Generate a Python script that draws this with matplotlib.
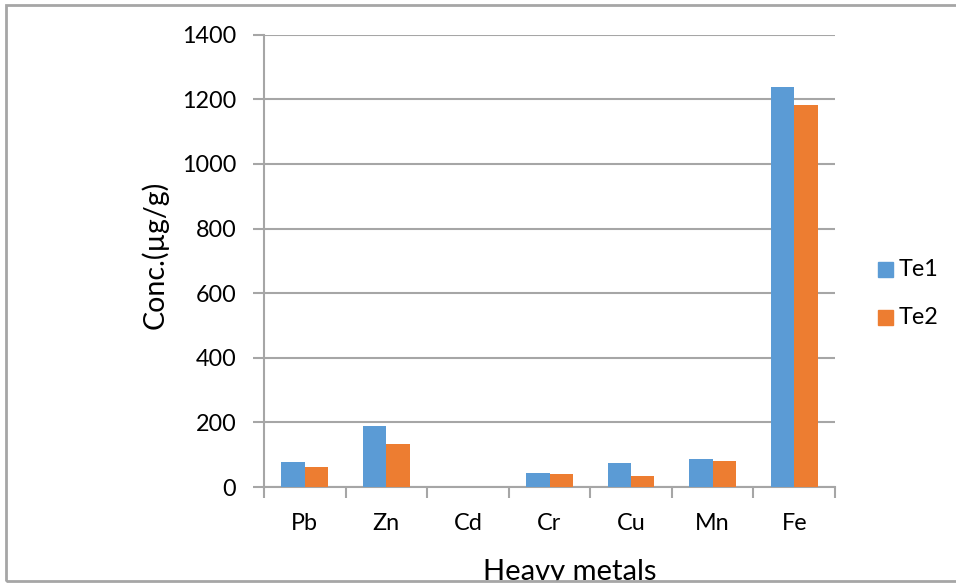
import numpy as np
import matplotlib.pyplot as plt
from matplotlib.patches import Rectangle

metals = ["Pb", "Zn", "Cd", "Cr", "Cu", "Mn", "Fe"]
te1 = [76, 190, 0, 44, 74, 87, 1238]
te2 = [62, 134, 0, 41, 34, 80, 1183]
series_names = ["Te1", "Te2"]
y_ticks = [0, 200, 400, 600, 800, 1000, 1200, 1400]

BLUE = "#5B9BD5"
ORANGE = "#ED7D31"
GRID = "#A6A6A6"

plt.rcParams['font.family'] = ['Lato', 'DejaVu Sans']

W, H = 956, 584
fig = plt.figure(figsize=(W / 100, H / 100), dpi=100)
ax = fig.add_axes([264 / W, 1 - 487 / H, (835 - 264) / W, (487 - 34.7) / H])

x = np.arange(len(metals))
bw = 0.286
ax.bar(x - bw / 2, te1, bw, color=BLUE, label=series_names[0], zorder=3)
ax.bar(x + bw / 2, te2, bw, color=ORANGE, label=series_names[1], zorder=3)

ax.set_xlim(-0.5, len(metals) - 0.5)
ax.set_ylim(0, 1400)

# horizontal gridlines, running a bit past the axis like tick marks
ax.set_yticks(y_ticks)
ax.set_yticklabels([str(v) for v in y_ticks], fontsize=16.8, color="#000000")
ax.grid(axis='y', color=GRID, linewidth=1.5, zorder=0)
ax.tick_params(axis='y', length=8, width=1.5, color=GRID, pad=12)

# category boundaries get the tick marks, names sit in between
ax.set_xticks(np.arange(-0.5, len(metals)), minor=False)
ax.set_xticklabels([])
ax.set_xticks(x, minor=True)
ax.set_xticklabels(metals, minor=True, fontsize=16.8)
ax.tick_params(axis='x', which='major', length=8, width=1.5, color=GRID)
ax.tick_params(axis='x', which='minor', length=0, pad=19)

for s in ['top', 'right']:
    ax.spines[s].set_visible(False)
for s in ['left', 'bottom']:
    ax.spines[s].set_color(GRID)
    ax.spines[s].set_linewidth(1.5)

fig.text(155 / W, 1 - 255 / H, "Conc.(µg/g)", rotation=90, ha='center', va='center',
         fontsize=20.5)
fig.text(570 / W, 1 - 559 / H, "Heavy metals", ha='center', va='top', fontsize=21)

# legend drawn by hand to the right of the plot
for i, (name, col) in enumerate(zip(series_names, [BLUE, ORANGE])):
    yc = 269 + i * 48
    fig.patches.append(Rectangle((878 / W, 1 - (yc + 7.5) / H), 15 / W, 15 / H,
                                 transform=fig.transFigure, color=col))
    fig.text(899 / W, 1 - yc / H, name, ha='left', va='center', fontsize=16.8)

# chart area border, cut off on the right
fig.patches.append(Rectangle((0, 0), 1, 3 / H, transform=fig.transFigure,
                             facecolor='white', edgecolor='none', zorder=10))
fig.patches.append(Rectangle((6 / W, 1 - 581 / H), 1.1, (581 - 5) / H,
                             transform=fig.transFigure, fill=False,
                             edgecolor=GRID, linewidth=2, zorder=11))

plt.savefig("out.png", dpi=100)
